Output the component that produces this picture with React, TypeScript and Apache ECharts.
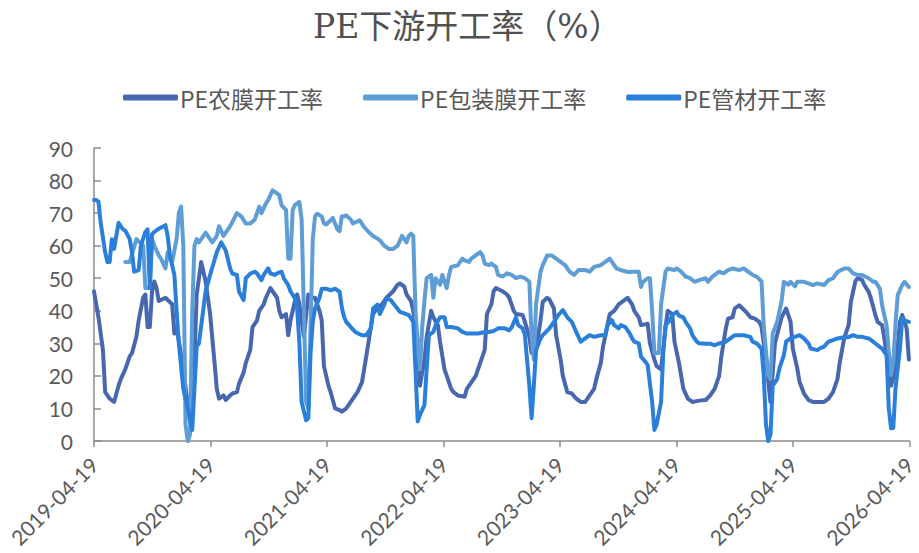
import React, { useEffect, useRef } from "react";
import * as echarts from "echarts";

// x = weeks since 2019-04-19 (weekly data), y = operating rate (%)
const xTickLabels = [
  "2019-04-19", "2020-04-19", "2021-04-19", "2022-04-19",
  "2023-04-19", "2024-04-19", "2025-04-19", "2026-04-19",
];
const yTicks = [0, 10, 20, 30, 40, 50, 60, 70, 80, 90];
const seriesNames = ["PE农膜开工率", "PE包装膜开工率", "PE管材开工率"];

const agriFilm: [number, number][] = [
  [0,46],[2,38],[4,28],[5,15],[7,13],[9,12],[11,17],[12,19],[14,22],[16,26],[17,27],[19,32],[20,37],[22,44],[23,45],[24,35],[25,35],[26,46],[27,49],[28,47],[29,43],[32,44],[35,42],[36,33],[37,35],[40,22],[43,6],[45,25],[46,45],[48,55],[50,49],[52,39],[54,24],[55,16],[56,13],[58,14],[59,12.6],[61,14],[62,14.6],[64,15],[65,17.7],[67,21],[68,24],[70,28],[71,35],[73,37],[74,40],[76,42],[77,44],[79,47],[80,46],[82,44],[83,40],[84,38],[86,39],[87,32.5],[88,37],[90,43],[91,45],[92,42],[94,32],[96,45],[98,44],[99,44],[101,40],[102,37],[103,23],[105,17],[106,15],[108,10],[110,9.5],[111,9],[113,10],[114,11],[116,13],[118,15],[120,18],[121,22],[123,30.5],[124,35],[125,39],[127,41],[129,42],[131,44],[134,46],[136,48],[137,48.4],[139,47.4],[140,45],[142,43],[143,40],[145,30],[146,17],[148,25],[149,32],[151,40],[152,38],[154,35.6],[155,30.5],[157,22],[158,20],[160,16],[161,15],[163,14],[166,13.6],[167,16],[169,18],[171,20],[172,22],[174,26],[175,28],[176,39],[178,42],[179,46],[180,47],[183,46],[185,45],[186,44],[188,40],[189,39],[192,38.7],[193,36.6],[195,32],[196,27],[198,28],[200,37],[201,42.7],[203,44],[204,43.5],[206,40.7],[207,32.5],[209,25],[210,20],[212,15],[214,14.6],[216,13],[218,12],[220,12],[221,13],[224,16],[225,19],[227,24],[228,29],[230,35.6],[231,39],[233,40],[235,42],[237,43],[239,44],[241,42],[242,40],[244,38],[245,35.6],[248,36],[249,30],[251,25],[252,23],[254,22],[256,35],[257,40],[259,39],[260,30.5],[262,24],[264,16],[266,13],[268,12],[271,12.4],[274,12.6],[276,14],[278,16],[280,20],[281,26],[283,34.6],[284,37.6],[286,38],[287,40.7],[289,41.7],[290,41],[292,39.7],[294,38],[296,37.6],[298,36.6],[299,35],[301,25],[303,12],[305,30],[308,38],[310,40.7],[312,36.6],[313,28.4],[315,22.3],[316,18.2],[318,14.6],[320,12.6],[322,12],[324,12],[327,12],[329,13],[331,15],[333,19],[334,24],[336,31.5],[338,35.6],[339,42.7],[341,49],[342,50],[344,49.5],[345,48],[347,45.8],[348,43.8],[350,38.7],[351,36.6],[353,35.6],[354,31.5],[356,22],[357,17],[359,22],[361,36.6],[362,38.7],[364,34.6],[365,25],
];

const packFilm: [number, number][] = [
  [14,55],[16,55],[19,62],[22,60],[23,47],[25,47],[26,62],[27,60],[29,57],[30,56],[32,53],[33,58],[34,56],[35,55],[37,62],[38,70],[39,72],[40,60],[41,5],[42,0],[43,2],[44,40],[45,60],[46,62],[47,61],[49,63],[50,64],[52,62],[53,61],[55,63],[56,66],[58,63],[59,64],[61,66],[64,70],[66,69],[68,66.8],[70,66.8],[72,68],[74,72],[75,70],[77,73],[78,74],[80,77],[81,76.5],[83,75.5],[84,72.4],[86,71],[87,56],[88,56],[89,71],[90,72.5],[92,73.4],[93,68],[94,40],[95,12],[96,10],[97,35],[98,62],[99,69],[100,69.8],[102,69],[103,66.8],[104,66.5],[106,67.8],[107,68.5],[109,65],[110,64.5],[111,69],[112,69],[113,69.3],[115,68],[116,66.8],[119,67.8],[121,65.7],[123,64.2],[125,63],[128,61.7],[130,60],[132,59],[134,59],[136,60],[138,63],[140,61],[141,63],[142,63.7],[143,63],[144,40],[145,30],[146,22],[147,35],[148,43],[149,50],[151,51],[152,44],[153,50],[155,48],[156,51],[158,47],[159,51],[160,53.5],[163,54],[165,56],[166,55.5],[168,55],[169,56],[171,57],[173,58],[174,57],[175,54.5],[177,54],[178,54.5],[180,53.5],[181,51],[183,50.5],[185,51.5],[187,51],[189,50],[191,50.5],[193,50],[195,48.9],[196,32],[197,25],[198,42],[200,52],[201,54],[203,57],[205,57],[207,56],[209,55],[211,54],[213,52],[215,51],[217,52.5],[220,52.5],[222,52],[224,53.5],[227,54],[229,55],[231,56],[233,54],[234,53],[236,52.5],[239,51.9],[242,52],[244,52],[245,47.3],[246,48.9],[248,50],[249,50],[250,40],[251,27],[253,27],[254,42],[256,52],[257,53],[260,52.5],[261,53],[263,52],[265,50.5],[267,50],[269,48.9],[271,49.4],[274,50],[275,48.9],[277,50.5],[280,52],[282,51.5],[284,52.5],[286,53],[289,52.5],[291,53],[293,52],[295,51],[297,50.4],[299,49],[300,35],[302,20],[303,19],[304,33],[306,36.6],[308,43],[309,48.9],[311,48],[312,48.9],[314,47.5],[315,48.9],[318,48.9],[320,48.4],[322,47.9],[324,48.4],[327,47.9],[329,49.4],[331,50],[333,51.9],[336,53],[338,53],[340,51.5],[342,51],[344,51],[347,50],[349,48.9],[350,48.9],[352,46.8],[353,41.7],[355,35.6],[356,27.4],[357,20.2],[358,24],[359,36],[360,44.8],[362,47.9],[363,48.9],[365,47.3],
];

const pipe: [number, number][] = [
  [0,74],[1,74],[2,73.5],[3,67],[5,58],[6,55],[7,55],[8,62],[9,59],[10,63],[11,67],[13,65],[14,64.6],[16,62],[17,58],[18,52],[20,52.5],[21,60],[23,64.2],[24,65],[25,47],[26,63.5],[27,64.2],[29,65.2],[32,66.3],[33,63],[34,57],[35,54],[36,51],[37,40],[38,30],[40,16],[42,10],[44,3.4],[46,29],[47,30],[50,46],[52,51],[55,58],[57,61],[59,58.5],[61,53],[62,51.4],[64,51],[65,45.8],[67,43.3],[68,50],[70,51.4],[72,52],[73,51.5],[75,49.4],[76,51],[78,53],[79,51.5],[81,51],[82,51.5],[84,52],[85,50],[87,47.9],[88,46],[90,43.8],[91,40.7],[92,30],[93,12],[95,6.4],[96,7],[97,27],[98,36.6],[99,40.7],[101,44],[102,46.8],[104,46.8],[106,46.3],[108,46.8],[110,45.8],[111,41],[112,38.1],[113,36.6],[115,35],[117,33.5],[120,32.5],[122,32.5],[124,34.6],[125,40.7],[127,41.9],[128,39],[130,41.9],[131,43.8],[133,43.3],[134,42.3],[137,39.7],[139,39.2],[141,38.7],[143,36.6],[144,22],[145,6],[146,8],[148,11],[149,22],[150,32.5],[152,33.5],[153,35.6],[155,38],[157,38],[158,35],[160,35],[163,34.6],[165,33.5],[167,33],[169,33],[172,33],[175,33.5],[177,33.5],[179,33.8],[181,34.6],[184,34.6],[186,34],[187,34.8],[189,38],[190,35.6],[192,34.6],[193,32.5],[195,17],[196,7],[197,17],[198,28],[200,31.5],[201,32.5],[204,34.6],[206,36.6],[208,38.7],[210,40.2],[212,38],[214,36.6],[216,33.5],[218,30.5],[220,31.5],[222,32.5],[224,32],[227,32.5],[229,32.5],[230,35.6],[232,37.1],[233,35.6],[235,34.6],[236,35.6],[238,35],[240,33],[241,31.5],[242,30.5],[244,30],[245,25.9],[247,24.3],[248,23.3],[250,12],[251,3.4],[252,5],[254,12],[255,27.4],[256,35.6],[258,37.1],[259,38.7],[261,39.7],[262,38.5],[264,38],[265,36.6],[267,34.6],[268,32.5],[270,30.5],[271,30],[274,29.9],[276,29.9],[278,29.4],[280,30],[283,30.5],[285,31.5],[287,32.5],[289,32.5],[291,32.5],[294,32],[295,30.5],[297,29.9],[299,28.4],[300,20],[301,5],[302,0],[303,2],[304,17],[306,19],[307,22.3],[309,26.4],[310,30.5],[312,31.5],[314,32],[316,32.5],[318,31.5],[320,30],[321,28.4],[324,27.9],[325,28.4],[327,29],[329,30.5],[331,31],[333,31.5],[336,31.9],[338,31.9],[340,32.5],[342,32],[344,32],[347,31.5],[349,30.5],[351,29.4],[353,28.4],[355,26.4],[356,10],[357,3.9],[358,4],[359,16.2],[361,28.4],[362,37.6],[363,37],[365,36.6],
];

const colors = ["#4767AE", "#5E9DD5", "#2A7FDA"];
const WEEKS_TOTAL = 365.25;
const YEAR_STEP = WEEKS_TOTAL / (xTickLabels.length - 1);

export default function App() {
  const ref = useRef<HTMLDivElement>(null);
  useEffect(() => {
    if (!ref.current) return;
    const chart = echarts.init(ref.current, null, { renderer: "svg" });
    const axisColor = "#8c8c8c";
    const labelColor = "#595959";
    chart.setOption({
      animation: false,
      backgroundColor: "#ffffff",
      title: {
        text: "PE下游开工率（%）",
        left: 308,
        top: 5,
        textStyle: {
          fontFamily: "'DejaVu Serif', 'Noto Sans CJK SC', serif",
          fontSize: 33,
          fontWeight: "normal",
          color: "#505050",
        },
      },
      legend: {
        top: 81,
        left: 118,
        itemGap: 40,
        itemWidth: 55,
        itemHeight: 6,
        icon: "roundRect",
        data: seriesNames,
        textStyle: {
          fontFamily: "'Noto Sans CJK SC', sans-serif",
          fontSize: 23,
          color: labelColor,
          padding: [0, 0, 0, -3],
        },
      },
      grid: { left: 94, right: 7, top: 148, bottom: 112, containLabel: false },
      xAxis: {
        type: "value",
        min: 0,
        max: WEEKS_TOTAL,
        interval: YEAR_STEP,
        splitLine: { show: false },
        axisLine: { show: true, lineStyle: { color: axisColor, width: 1.5 } },
        axisTick: { show: true, length: 6, lineStyle: { color: axisColor, width: 1.5 } },
        axisLabel: {
          rotate: 45,
          margin: 20,
          fontSize: 21,
          fontFamily: "Lato, 'Noto Sans', sans-serif",
          color: labelColor,
          formatter: (v: number) => xTickLabels[Math.round(v / YEAR_STEP)] ?? "",
        },
      },
      yAxis: {
        type: "value",
        min: yTicks[0],
        max: yTicks[yTicks.length - 1],
        interval: 10,
        splitLine: { show: false },
        axisLine: { show: true, lineStyle: { color: axisColor, width: 1.5 } },
        axisTick: { show: true, inside: true, length: 7, lineStyle: { color: axisColor, width: 1.5 } },
        axisLabel: {
          margin: 21,
          fontSize: 21,
          fontFamily: "Lato, 'Noto Sans', sans-serif",
          color: labelColor,
        },
      },
      series: [
        { name: seriesNames[0], data: agriFilm },
        { name: seriesNames[1], data: packFilm },
        { name: seriesNames[2], data: pipe },
      ].map((s, i) => ({
        ...s,
        type: "line",
        showSymbol: false,
        symbol: "none",
        color: colors[i],
        lineStyle: { width: 4, color: colors[i], cap: "round", join: "round" },
      })),
    });
    return () => chart.dispose();
  }, []);
  return (
    <div
      ref={ref}
      style={{ position: "absolute", left: 0, top: 0, width: 919, height: 553 }}
    />
  );
}
